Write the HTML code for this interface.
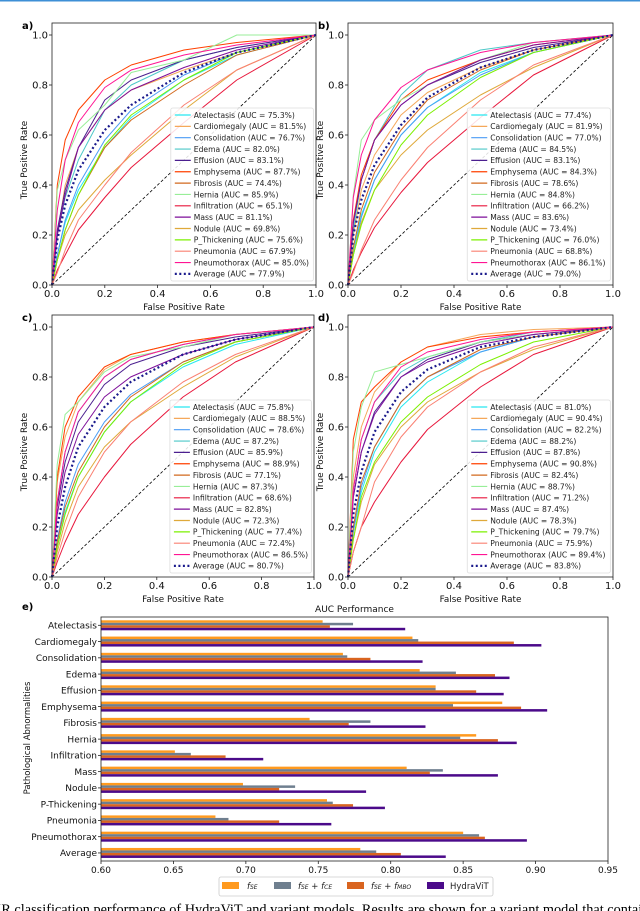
<!DOCTYPE html>
<html><head><meta charset="utf-8">
<style>
html,body{margin:0;padding:0;background:#fff;}
body{width:640px;height:911px;overflow:hidden;position:relative;}
svg{position:absolute;left:0;top:0;}
text{font-family:"DejaVu Sans","Liberation Sans",sans-serif;}
</style></head>
<body>
<svg id="fig" width="640" height="911" viewBox="0 0 640 911" xmlns="http://www.w3.org/2000/svg">
<rect x="0" y="0" width="640" height="1.5" fill="#3d8fd6"/>
<text x="-9" y="914" font-size="14.3" style="font-family:'Liberation Serif',serif">XR classification performance of HydraViT and variant models. Results are shown for a variant model that contains</text>
</svg>
<script>
// ---------- ROC data ----------
const diseases = ["Atelectasis","Cardiomegaly","Consolidation","Edema","Effusion","Emphysema","Fibrosis","Hernia","Infiltration","Mass","Nodule","P_Thickening","Pneumonia","Pneumothorax","Average"];
const fprGrid = [0,0.02,0.05,0.1,0.2,0.3,0.5,0.7,1];
const aucA = [75.3,81.5,76.7,82.0,83.1,87.7,74.4,85.9,65.1,81.1,69.8,75.6,67.9,85.0,77.9];
const aucB = [77.4,81.9,77.0,84.5,83.1,84.3,78.6,84.8,66.2,83.6,73.4,76.0,68.8,86.1,79.0];
const aucC = [75.8,88.5,78.6,87.2,85.9,88.9,77.1,87.3,68.6,82.8,72.3,77.4,72.4,86.5,80.7];
const aucD = [81.0,90.4,82.2,88.2,87.8,90.8,82.4,88.7,71.2,87.4,78.3,79.7,75.9,89.4,83.8];
const tprA = [
 [0,0.12,0.25,0.38,0.55,0.67,0.82,0.92,1],
 [0,0.2,0.4,0.55,0.7,0.78,0.86,0.93,1],
 [0,0.12,0.26,0.4,0.58,0.7,0.84,0.93,1],
 [0,0.2,0.35,0.5,0.7,0.8,0.9,0.95,1],
 [0,0.22,0.38,0.55,0.74,0.82,0.9,0.95,1],
 [0,0.4,0.58,0.7,0.82,0.88,0.94,0.97,1],
 [0,0.1,0.22,0.36,0.55,0.66,0.8,0.92,1],
 [0,0.38,0.5,0.62,0.72,0.85,0.9,1,1],
 [0,0.06,0.12,0.22,0.35,0.47,0.65,0.82,1],
 [0,0.2,0.36,0.55,0.7,0.78,0.87,0.94,1],
 [0,0.1,0.2,0.3,0.42,0.52,0.7,0.86,1],
 [0,0.1,0.22,0.36,0.56,0.68,0.82,0.93,1],
 [0,0.05,0.14,0.26,0.4,0.53,0.72,0.86,1],
 [0,0.3,0.5,0.65,0.79,0.86,0.92,0.96,1],
 [0,0.18,0.32,0.46,0.62,0.72,0.85,0.93,1]];
const tprB = [
 [0,0.14,0.28,0.42,0.6,0.71,0.85,0.93,1],
 [0,0.2,0.38,0.52,0.68,0.77,0.87,0.94,1],
 [0,0.12,0.27,0.42,0.6,0.71,0.84,0.93,1],
 [0,0.22,0.42,0.58,0.76,0.86,0.94,0.97,1],
 [0,0.25,0.42,0.58,0.72,0.8,0.89,0.95,1],
 [0,0.26,0.44,0.58,0.74,0.82,0.9,0.96,1],
 [0,0.15,0.3,0.45,0.62,0.74,0.86,0.94,1],
 [0,0.36,0.58,0.66,0.74,0.8,0.9,0.97,1],
 [0,0.06,0.13,0.23,0.37,0.49,0.67,0.84,1],
 [0,0.25,0.42,0.58,0.72,0.8,0.9,0.96,1],
 [0,0.12,0.25,0.38,0.52,0.62,0.76,0.87,1],
 [0,0.12,0.24,0.38,0.56,0.68,0.83,0.93,1],
 [0,0.05,0.14,0.26,0.42,0.55,0.74,0.88,1],
 [0,0.35,0.52,0.66,0.79,0.86,0.93,0.97,1],
 [0,0.2,0.34,0.48,0.64,0.75,0.87,0.94,1]];
const tprC = [
 [0,0.12,0.26,0.4,0.58,0.7,0.84,0.93,1],
 [0,0.38,0.56,0.7,0.83,0.89,0.94,0.97,1],
 [0,0.15,0.3,0.45,0.62,0.73,0.86,0.94,1],
 [0,0.3,0.5,0.66,0.8,0.87,0.93,0.97,1],
 [0,0.28,0.46,0.62,0.77,0.85,0.92,0.96,1],
 [0,0.4,0.6,0.72,0.84,0.89,0.94,0.97,1],
 [0,0.14,0.28,0.42,0.6,0.72,0.86,0.94,1],
 [0,0.45,0.65,0.7,0.82,0.88,0.92,0.97,1],
 [0,0.06,0.14,0.25,0.4,0.53,0.72,0.86,1],
 [0,0.25,0.42,0.57,0.72,0.8,0.89,0.95,1],
 [0,0.1,0.22,0.36,0.52,0.62,0.76,0.88,1],
 [0,0.12,0.25,0.4,0.58,0.7,0.85,0.94,1],
 [0,0.08,0.18,0.32,0.5,0.62,0.78,0.89,1],
 [0,0.3,0.5,0.66,0.8,0.87,0.93,0.97,1],
 [0,0.2,0.36,0.52,0.68,0.78,0.89,0.95,1]];
const tprD = [
 [0,0.18,0.34,0.5,0.68,0.78,0.9,0.96,1],
 [0,0.4,0.6,0.74,0.86,0.92,0.97,0.99,1],
 [0,0.18,0.36,0.52,0.7,0.8,0.9,0.96,1],
 [0,0.35,0.55,0.7,0.82,0.88,0.94,0.98,1],
 [0,0.32,0.5,0.66,0.8,0.87,0.94,0.97,1],
 [0,0.55,0.7,0.76,0.86,0.92,0.96,0.98,1],
 [0,0.2,0.38,0.52,0.7,0.8,0.91,0.96,1],
 [0,0.5,0.68,0.82,0.85,0.88,0.94,0.97,1],
 [0,0.1,0.2,0.3,0.46,0.59,0.76,0.89,1],
 [0,0.32,0.5,0.65,0.8,0.86,0.93,0.97,1],
 [0,0.15,0.3,0.45,0.6,0.7,0.82,0.91,1],
 [0,0.15,0.32,0.46,0.62,0.72,0.85,0.94,1],
 [0,0.1,0.2,0.38,0.56,0.68,0.82,0.92,1],
 [0,0.35,0.55,0.7,0.84,0.9,0.95,0.98,1],
 [0,0.25,0.42,0.58,0.74,0.83,0.92,0.96,1]];
const xTicks = ["0.0","0.2","0.4","0.6","0.8","1.0"];
const yTicks = ["0.0","0.2","0.4","0.6","0.8","1.0"];

// ---------- Bar data ----------
const barCats = ["Atelectasis","Cardiomegaly","Consolidation","Edema","Effusion","Emphysema","Fibrosis","Hernia","Infiltration","Mass","Nodule","P-Thickening","Pneumonia","Pneumothorax","Average"];
const barSE   = [0.753,0.815,0.767,0.820,0.831,0.877,0.744,0.859,0.651,0.811,0.698,0.756,0.679,0.850,0.779];
const barCE   = [0.774,0.819,0.770,0.845,0.831,0.843,0.786,0.848,0.662,0.836,0.734,0.760,0.688,0.861,0.790];
const barMBO  = [0.758,0.885,0.786,0.872,0.859,0.890,0.771,0.874,0.686,0.827,0.723,0.774,0.723,0.865,0.807];
const barHydra= [0.810,0.904,0.822,0.882,0.878,0.908,0.824,0.887,0.712,0.874,0.783,0.796,0.759,0.894,0.838];
const barTicks = [0.60,0.65,0.70,0.75,0.80,0.85,0.90,0.95];

const colors = ["#27e8f0","#f5a85a","#4b9cf5","#4cc8c8","#4b1f8f","#ff4000","#d2691e","#98ee98","#e8173c","#7e0f9a","#dfa93a","#7cf000","#fa8072","#ff1493","#1a1a8c"];
const NS = "http://www.w3.org/2000/svg";
const svg = document.getElementById('fig');
function mk(tag, attrs, parent){const e=document.createElementNS(NS,tag);for(const k in attrs)e.setAttribute(k,attrs[k]);(parent||svg).appendChild(e);return e;}

function drawROC(label, ox, oy, w, tprs, aucs){
  const h=250;
  const g = mk('g',{});
  
  
  const sx = v=>ox+v*w, sy=v=>oy-v*h;
  const d = mk('line',{x1:sx(0),y1:sy(0),x2:sx(1),y2:sy(1),stroke:'#000','stroke-width':0.8,'stroke-dasharray':'3,2'},g);
  
  
  tprs.forEach((arr,i)=>{
    const pts = arr.map((t,j)=>sx(fprGrid[j]).toFixed(1)+','+sy(t).toFixed(1)).join(' ');
    const avg = i===tprs.length-1;
    const p = mk('polyline',{points:pts,fill:'none',stroke:colors[i],'stroke-width':avg?2.2:1,'stroke-dasharray':avg?'2,2.5':'none','stroke-linejoin':'round'},g);
    
    
  });
  const top = oy-262;
  const fr = mk('rect',{x:ox,y:top,width:w,height:oy-top,fill:'none',stroke:'#222','stroke-width':0.8},g);
  
  
  xTicks.forEach((t,i)=>{
    const x=sx(i/5);
    mk('line',{x1:x,y1:oy,x2:x,y2:oy+3,stroke:'#222','stroke-width':0.8},g);
    const tx=mk('text',{x:x,y:oy+12,'font-size':10,'text-anchor':'middle',fill:'#111'},g);
    tx.textContent=t;
    
    
  });
  yTicks.forEach((t,i)=>{
    const y=sy(i/5);
    mk('line',{x1:ox-3,y1:y,x2:ox,y2:y,stroke:'#222','stroke-width':0.8},g);
    const tx=mk('text',{x:ox-4,y:y+3.5,'font-size':10,'text-anchor':'end',fill:'#111'},g);
    tx.textContent=t;
    
    
  });
  const xl=mk('text',{x:ox+w/2,y:oy+25,'font-size':8.8,'text-anchor':'middle',fill:'#111'},g);
  xl.textContent='False Positive Rate';
  
  
  const yl=mk('text',{x:0,y:0,'font-size':8.8,'text-anchor':'middle',fill:'#111',transform:`translate(${ox-25},${oy-125}) rotate(-90)`},g);
  yl.textContent='True Positive Rate';
  
  
  const pl=mk('text',{x:ox-30,y:top+6,'font-size':10,'font-weight':'bold',fill:'#000'},g);
  pl.textContent=label+')';
  
  
  const lx=ox+w*0.45, lw=w*0.54, rowH=11.35, ltop=oy-177;
  const lg=mk('g',{},g);
  
  
  mk('rect',{x:lx,y:ltop,width:lw,height:173,rx:2,fill:'#fff','fill-opacity':0.85,stroke:'#ddd','stroke-width':0.8},lg);
  diseases.forEach((n,i)=>{
    const y=ltop+7+i*rowH;
    const avg=i===diseases.length-1;
    const ent=mk('g',{},lg);
    
    
    mk('line',{x1:lx+4,y1:y,x2:lx+20,y2:y,stroke:colors[i],'stroke-width':avg?2.2:1.2,'stroke-dasharray':avg?'2,2.5':'none'},ent);
    const t=mk('text',{x:lx+23,y:y+2.8,'font-size':7.6,fill:'#222'},ent);
    t.textContent=n+' (AUC = '+aucs[i].toFixed(1)+'%)';
  });
}
drawROC('a',52,285,264,tprA,aucA);
drawROC('b',348,285,265,tprB,aucB);
drawROC('c',52,577,262,tprC,aucC);
drawROC('d',348,577,265,tprD,aucD);

// ---------- Bar chart ----------
(function(){
  const L=101,R=608,T=617,B=861;
  const sx=v=>L+(v-0.6)/0.35*(R-L);
  const rowY=i=>625.3+i*16.26;
  const g=mk('g',{});
  
  
  const series=[barSE,barCE,barMBO,barHydra];
  const scol=['#ff9a1f','#6f7f8f','#d9641f','#4b0a8a'];
  const sname=['f-se','f-se-f-ce','f-se-f-mbo','hydravit'];
  barCats.forEach((c,i)=>{
    series.forEach((s,k)=>{
      const y=rowY(i)-5+k*2.5;
      const r=mk('rect',{x:L,y:y,width:sx(s[i])-L,height:2.5,fill:scol[k]},g);
      
      
    });
    mk('line',{x1:L-3,y1:rowY(i),x2:L,y2:rowY(i),stroke:'#222','stroke-width':0.8},g);
    const t=mk('text',{x:L-4,y:rowY(i)+3.3,'font-size':9,'text-anchor':'end',fill:'#111'},g);
    t.textContent=c;
    
    
  });
  const fr=mk('rect',{x:L,y:T,width:R-L,height:B-T,fill:'none',stroke:'#222','stroke-width':0.8},g);
  
  
  barTicks.forEach(v=>{
    const x=sx(v);
    mk('line',{x1:x,y1:B,x2:x,y2:B+3,stroke:'#222','stroke-width':0.8},g);
    const t=mk('text',{x:x,y:B+12,'font-size':9,'text-anchor':'middle',fill:'#111'},g);
    t.textContent=v.toFixed(2);
    
    
  });
  const tt=mk('text',{x:(L+R)/2,y:612,'font-size':9,'text-anchor':'middle',fill:'#111'},g);
  tt.textContent='AUC Performance';
  
  
  const yl=mk('text',{x:0,y:0,'font-size':8.5,'text-anchor':'middle',fill:'#111',transform:'translate(30,738) rotate(-90)'},g);
  yl.textContent='Pathological Abnormalities';
  
  
  const pl=mk('text',{x:22,y:610,'font-size':10,'font-weight':'bold',fill:'#000'},g);
  pl.textContent='e)';
  
  
  const lg=mk('g',{},g);
  
  
  mk('rect',{x:219,y:877,width:274,height:19,rx:2,fill:'#fff',stroke:'#ccc','stroke-width':0.8},lg);
  const lxs=[222,274,347,427];
  const ltx=[247,298,371,450];
  const labels=[['f','SE'],['f','SE',' + ','f','CE'],['f','SE',' + ','f','MBO'],['HydraViT']];
  lxs.forEach((x,k)=>{
    const e=mk('g',{},lg);
    
    
    mk('rect',{x:x,y:882,width:17,height:7,fill:scol[k]},e);
    const t=mk('text',{x:ltx[k],y:889,'font-size':8.5,fill:'#222'},e);
    const parts=labels[k];
    if(parts.length===1){t.textContent=parts[0];}
    else{
      for(let j=0;j<parts.length;j++){
        const sp=document.createElementNS(NS,'tspan');
        const p=parts[j];
        if(p==='f'){sp.setAttribute('font-style','italic');sp.textContent='f';}
        else if(p===' + '){sp.textContent=' + ';}
        else {sp.setAttribute('font-size','6');sp.setAttribute('font-style','italic');sp.textContent=p;}
        t.appendChild(sp);
      }
    }
  });
})();
</script>
</body></html>
